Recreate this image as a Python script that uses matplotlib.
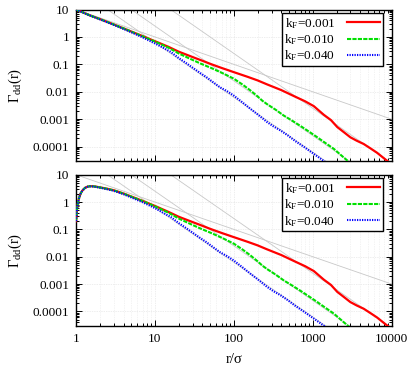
import matplotlib
matplotlib.use("Agg")
import matplotlib.pyplot as plt
import numpy as np
from matplotlib.ticker import FixedLocator, NullFormatter, LogLocator

plt.rcParams['font.family'] = ['Liberation Serif', 'DejaVu Serif']
plt.rcParams['mathtext.fontset'] = 'custom'
plt.rcParams['mathtext.rm'] = 'Liberation Serif'
plt.rcParams['mathtext.it'] = 'Liberation Serif:italic'

# ---------------- data ----------------
labels = ["k$_\\mathrm{F}$=0.001", "k$_\\mathrm{F}$=0.010", "k$_\\mathrm{F}$=0.040"]
colors = ["#ff0000", "#00e000", "#0000ff"]

# top panel
r_red = [1, 1.5, 2, 3, 4, 5, 7, 10, 15, 20, 30, 40, 50, 70, 100, 150, 200, 265, 400, 575,
         800, 1030, 1380, 1700, 2040, 2500, 2990, 3600, 4420, 5400, 6520, 8800, 10000]
g_red_top = [10, 6.1, 4.5, 2.85, 2.05, 1.58, 1.07, 0.70, 0.43, 0.29, 0.185, 0.135, 0.105, 0.074,
             0.052, 0.035, 0.026, 0.0185, 0.0115, 0.0070, 0.0045, 0.0030, 0.00145, 9.3e-4, 5.2e-4,
             3.3e-4, 2.2e-4, 1.65e-4, 1.25e-4, 8.6e-5, 6.0e-5, 3.0e-5, 2.3e-5]

r_green = [1, 1.5, 2, 3, 4, 5, 7, 10, 15, 20, 30, 37.6, 52.6, 74, 100, 130, 162, 200, 230, 265,
           340, 427, 550, 697, 900, 1140, 1450, 1850, 2300, 2740, 3500]
g_green_top = [10, 6.1, 4.5, 2.85, 2.05, 1.57, 1.05, 0.68, 0.40, 0.25, 0.145, 0.108, 0.072, 0.046,
               0.030, 0.018, 0.0112, 0.0068, 0.0047, 0.0035, 0.0022, 0.00137, 8.8e-4, 5.7e-4,
               3.5e-4, 2.2e-4, 1.35e-4, 8.3e-5, 4.8e-5, 3.1e-5, 1.7e-5]

r_blue = [1, 1.5, 2, 3, 4, 5, 7, 10, 13, 16, 20, 25, 30.8, 37.6, 45, 55, 67, 82, 99, 130, 162,
          200, 265, 320, 390, 480, 600, 780, 1000, 1200, 1380, 1600]
g_blue_top = [10, 6.0, 4.4, 2.75, 1.95, 1.48, 0.96, 0.58, 0.39, 0.28, 0.17, 0.11, 0.072, 0.048,
              0.034, 0.022, 0.0145, 0.0105, 0.0074, 0.0040, 0.0024, 0.0015, 7.8e-4, 5.4e-4,
              3.9e-4, 2.6e-4, 1.6e-4, 9.6e-5, 5.8e-5, 4.0e-5, 3.0e-5, 2.2e-5]

# bottom panel
r_red_b = [1.0, 1.03, 1.06, 1.1, 1.15, 1.2, 1.3, 1.4, 1.5, 1.6, 1.75, 2.0, 2.5, 3, 4, 5, 7, 10,
           15, 20, 30, 40, 50, 70, 100, 150, 200, 265, 400, 575, 800, 1030, 1380, 1700, 2040,
           2500, 2990, 3600, 4420, 5400, 6520, 8800, 10000]
g_red_bot = [0.2, 0.55, 0.95, 1.5, 2.1, 2.6, 3.3, 3.65, 3.8, 3.8, 3.7, 3.45, 3.05, 2.7, 2.05,
             1.6, 1.1, 0.72, 0.43, 0.29, 0.185, 0.135, 0.105, 0.074, 0.052, 0.035, 0.026,
             0.0185, 0.0115, 0.0070, 0.0045, 0.0030, 0.00145, 9.3e-4, 5.2e-4, 3.3e-4, 2.2e-4,
             1.65e-4, 1.25e-4, 8.6e-5, 6.0e-5, 3.0e-5, 2.3e-5]

r_green_b = [1.0, 1.03, 1.06, 1.1, 1.15, 1.2, 1.3, 1.4, 1.5, 1.6, 1.75, 2.0, 2.5, 3, 4, 5, 7, 10,
             15, 20, 30, 37.6, 52.6, 74, 100, 130, 162, 200, 230, 265, 340, 427, 550, 697, 900,
             1140, 1450, 1850, 2300, 2740, 3500]
g_green_bot = [0.2, 0.55, 0.95, 1.5, 2.1, 2.6, 3.3, 3.65, 3.78, 3.78, 3.68, 3.43, 3.03, 2.68,
               2.03, 1.58, 1.08, 0.70, 0.40, 0.25, 0.145, 0.108, 0.072, 0.046, 0.030, 0.018,
               0.0112, 0.0068, 0.0047, 0.0035, 0.0022, 0.00137, 8.8e-4, 5.7e-4, 3.5e-4, 2.2e-4,
               1.35e-4, 8.3e-5, 4.8e-5, 3.1e-5, 1.7e-5]

r_blue_b = [1.0, 1.03, 1.06, 1.1, 1.15, 1.2, 1.3, 1.4, 1.5, 1.6, 1.75, 2.0, 2.5, 3, 4, 5, 7, 10,
            13, 16, 20, 25, 30.8, 37.6, 45, 55, 67, 82, 99, 130, 162, 200, 265, 320, 390, 480,
            600, 780, 1000, 1200, 1380, 1600]
g_blue_bot = [0.2, 0.55, 0.95, 1.5, 2.1, 2.6, 3.25, 3.6, 3.72, 3.72, 3.6, 3.35, 2.92, 2.58,
              1.93, 1.48, 0.98, 0.60, 0.39, 0.28, 0.17, 0.11, 0.072, 0.048, 0.034, 0.022,
              0.0145, 0.0105, 0.0074, 0.0040, 0.0024, 0.0015, 7.8e-4, 5.4e-4, 3.9e-4, 2.6e-4,
              1.6e-4, 9.6e-5, 5.8e-5, 4.0e-5, 3.0e-5, 2.2e-5]

# guide power laws: (coefficient, exponent)
guide_coef = [10.0, 2500.0, 250.0, 62.5]
guide_exp = [-1, -2, -2, -2]

xticks = [1, 10, 100, 1000, 10000]
xticklabels = ["1", "10", "100", "1000", "10000"]
yticks = [1e-4, 1e-3, 1e-2, 1e-1, 1, 10]
yticklabels = ["0.0001", "0.001", "0.01", "0.1", "1", "10"]

# ---------------- figure ----------------
W, H = 415, 368
fig = plt.figure(figsize=(W / 100, H / 100), dpi=100)
left, right = 76 / W, 391.7 / W
ax_top = fig.add_axes([left, 1 - 161 / H, right - left, (161 - 9.5) / H])
ax_bot = fig.add_axes([left, 1 - 325.7 / H, right - left, (325.7 - 174.7) / H])

styles = [dict(ls='-', lw=1.6),
          dict(ls=(0, (2.0, 0.6)), lw=1.5),
          dict(ls=(0, (0.6, 0.6)), lw=1.5)]

series_top = [(r_red, g_red_top), (r_green, g_green_top), (r_blue, g_blue_top)]
series_bot = [(r_red_b, g_red_bot), (r_green_b, g_green_bot), (r_blue_b, g_blue_bot)]

xg = np.array([1.0, 10000.0])
for ax, series in [(ax_top, series_top), (ax_bot, series_bot)]:
    ax.set_xscale('log')
    ax.set_yscale('log')
    ax.set_xlim(1, 10000)
    ax.set_ylim(3e-5, 10)
    ax.xaxis.set_minor_locator(LogLocator(base=10, subs=np.arange(2, 10), numticks=20))
    ax.yaxis.set_minor_locator(LogLocator(base=10, subs=np.arange(2, 10), numticks=20))
    ax.grid(True, which='major', color='#dcdcdc', ls=(0, (1, 1.5)), lw=0.5)
    ax.grid(True, which='minor', axis='x', color='#e8e8e8', ls=(0, (1, 1.5)), lw=0.5)
    for c, p in zip(guide_coef, guide_exp):
        ax.plot(xg, c * xg ** p, color='#c8c8c8', lw=0.6, zorder=2)
    for (rr, gg), col, st, lab in zip(series, colors, styles, labels):
        ax.plot(rr, gg, color=col, label=lab, zorder=3, **st)
    ax.xaxis.set_major_locator(FixedLocator(xticks))
    ax.yaxis.set_major_locator(FixedLocator(yticks))
    ax.set_yticklabels(yticklabels)
    ax.tick_params(which='both', direction='in', top=True, right=True, labelsize=9.5,
                   width=0.7, pad=5)
    ax.tick_params(which='major', length=4)
    ax.tick_params(which='minor', length=2)
    for s in ax.spines.values():
        s.set_linewidth(1.0)
    ax.set_ylabel(r'$\Gamma_{\mathrm{dd}}\mathrm{(r)}$', fontsize=10.5, labelpad=6)
    leg = ax.legend(loc='upper right', markerfirst=False, fontsize=9.5, frameon=True,
                    fancybox=False, edgecolor='black', framealpha=1, borderpad=0.2,
                    handlelength=2.5, handletextpad=0.9, labelspacing=0.12,
                    bbox_to_anchor=(0.972, 0.975), borderaxespad=0.0)
    leg.get_frame().set_linewidth(1.0)

ax_top.xaxis.set_major_formatter(NullFormatter())
ax_bot.set_xticklabels(xticklabels)
ax_bot.set_xlabel('r/σ', fontsize=10.5, labelpad=6)

fig.savefig('out.png', dpi=100)
